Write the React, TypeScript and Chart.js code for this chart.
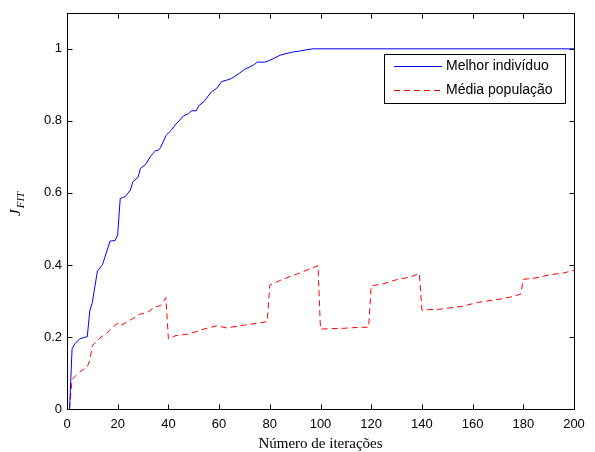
import { useEffect, useRef } from "react";
import { Chart, registerables } from "chart.js";

Chart.register(...registerables);

// Iteration numbers and values
const bestIter = [1, 2, 3, 5, 8, 9, 10, 12, 14, 17, 19, 20, 21, 22, 23, 25, 26, 28, 29, 31, 33, 35, 36, 37, 39, 41, 43, 46, 48, 49, 51, 52, 54, 57, 59, 61, 63, 65, 68, 70, 72, 74, 75, 78, 80, 82, 84, 86, 89, 92, 95, 97, 200];
const bestValues = [0, 0.167, 0.18, 0.195, 0.201, 0.273, 0.296, 0.383, 0.401, 0.466, 0.468, 0.484, 0.585, 0.587, 0.59, 0.608, 0.631, 0.643, 0.668, 0.679, 0.702, 0.718, 0.718, 0.727, 0.759, 0.773, 0.791, 0.814, 0.82, 0.828, 0.828, 0.842, 0.853, 0.881, 0.89, 0.909, 0.913, 0.918, 0.932, 0.943, 0.949, 0.957, 0.963, 0.963, 0.968, 0.975, 0.982, 0.986, 0.991, 0.994, 0.998, 1.0, 1.0];

const meanIter = [1, 2, 5, 8, 9, 10, 13, 16, 18, 20, 21, 24, 29, 31, 35, 37, 39, 40, 43, 48, 54, 59, 63, 70, 76, 79, 80, 85, 92, 99, 100, 109, 116, 119, 120, 125, 130, 135, 139, 140, 147, 156, 162, 170, 175, 179, 180, 185, 190, 196, 200];
const meanValues = [0, 0.082, 0.103, 0.117, 0.135, 0.176, 0.197, 0.213, 0.227, 0.238, 0.231, 0.243, 0.264, 0.265, 0.284, 0.287, 0.309, 0.195, 0.204, 0.208, 0.222, 0.231, 0.225, 0.233, 0.239, 0.243, 0.344, 0.36, 0.378, 0.398, 0.222, 0.224, 0.227, 0.227, 0.342, 0.348, 0.359, 0.366, 0.376, 0.275, 0.277, 0.285, 0.296, 0.304, 0.311, 0.319, 0.36, 0.364, 0.372, 0.378, 0.385];

const seriesLabels = ["Melhor indivíduo", "Média população"];
const seriesColors = ["#0000ff", "#ff0000"];
const xTicks = [0, 20, 40, 60, 80, 100, 120, 140, 160, 180, 200];
const yTicks = [0, 0.2, 0.4, 0.6, 0.8, 1];
const yTickLabels = ["0", "0.2", "0.4", "0.6", "0.8", "1"];
const xTitle = "Número de iterações";
const yTitleMain = "J";
const yTitleSub = "FIT";

const sansFont = "Arial, 'Liberation Sans', Helvetica, sans-serif";
const serifFont = "'Times New Roman', 'Liberation Serif', serif";

const matlabFrame = {
  id: "matlabFrame",
  afterDraw(chart: any) {
    const { ctx, chartArea } = chart;
    const L = Math.round(chartArea.left) + 0.5;
    const R = Math.round(chartArea.right) + 0.5;
    const T = Math.round(chartArea.top) + 0.5;
    const B = Math.round(chartArea.bottom) + 0.5;
    const xs = chart.scales.x;
    const ys = chart.scales.y;
    ctx.save();
    ctx.strokeStyle = "#000";
    ctx.lineWidth = 1;
    ctx.setLineDash([]);
    ctx.strokeRect(L, T, R - L, B - T);
    const tl = 5;
    ctx.beginPath();
    xTicks.forEach((v) => {
      const px = Math.round(xs.getPixelForValue(v)) + 0.5;
      ctx.moveTo(px, B);
      ctx.lineTo(px, B - tl);
      ctx.moveTo(px, T);
      ctx.lineTo(px, T + tl);
    });
    yTicks.forEach((v) => {
      const py = Math.round(ys.getPixelForValue(v)) + 0.5;
      ctx.moveTo(L, py);
      ctx.lineTo(L + tl, py);
      ctx.moveTo(R, py);
      ctx.lineTo(R - tl, py);
    });
    ctx.stroke();

    // x title
    ctx.fillStyle = "#000";
    ctx.font = `15px ${serifFont}`;
    ctx.textAlign = "center";
    ctx.textBaseline = "alphabetic";
    ctx.fillText(xTitle, (chartArea.left + chartArea.right) / 2, 448);

    // y title (rotated, with subscript)
    ctx.save();
    ctx.translate(20, 216);
    ctx.rotate(-Math.PI / 2);
    ctx.textAlign = "left";
    ctx.font = `italic 15px ${serifFont}`;
    ctx.fillText(yTitleMain, 0, 0);
    const jw = ctx.measureText(yTitleMain).width;
    ctx.font = `italic 11px ${serifFont}`;
    ctx.fillText(yTitleSub, jw + 1, 4);
    ctx.restore();

    // legend
    const lx = 384.5, ly = 54.5, lw = 181, lh = 49;
    ctx.fillStyle = "#fff";
    ctx.fillRect(lx, ly, lw, lh);
    ctx.strokeStyle = "#000";
    ctx.strokeRect(lx, ly, lw, lh);
    const rows = [66.5, 90.5];
    rows.forEach((ry, i) => {
      ctx.beginPath();
      ctx.strokeStyle = seriesColors[i];
      ctx.setLineDash(i === 1 ? [6, 4] : []);
      ctx.moveTo(394, ry);
      ctx.lineTo(442, ry);
      ctx.stroke();
      ctx.setLineDash([]);
      ctx.fillStyle = "#000";
      ctx.font = `14px ${sansFont}`;
      ctx.textAlign = "left";
      ctx.textBaseline = "middle";
      ctx.fillText(seriesLabels[i], 446, ry);
    });
    ctx.restore();
  },
};

export default function App() {
  const ref = useRef<HTMLCanvasElement | null>(null);
  useEffect(() => {
    document.body.style.margin = "0";
    const canvas = ref.current;
    if (!canvas) return;
    const chart = new Chart(canvas, {
      type: "line",
      data: {
        datasets: [
          {
            label: seriesLabels[0],
            data: bestIter.map((x, i) => ({ x, y: bestValues[i] })),
            borderColor: seriesColors[0],
            borderWidth: 1,
            pointRadius: 0,
            tension: 0,
            fill: false,
          },
          {
            label: seriesLabels[1],
            data: meanIter.map((x, i) => ({ x, y: meanValues[i] })),
            borderColor: seriesColors[1],
            borderWidth: 1,
            borderDash: [6, 4],
            pointRadius: 0,
            tension: 0,
            fill: false,
          },
        ],
      },
      options: {
        responsive: false,
        animation: false,
        events: [],
        layout: { padding: { left: 0, right: 21, top: 10, bottom: 0 } },
        plugins: { legend: { display: false }, tooltip: { enabled: false }, title: { display: false } },
        scales: {
          x: {
            type: "linear",
            min: 0,
            max: 200,
            afterBuildTicks: (s: any) => {
              s.ticks = xTicks.map((v) => ({ value: v }));
            },
            afterFit: (s: any) => {
              s.height = 43;
            },
            grid: { display: false, drawTicks: false },
            border: { display: false },
            ticks: {
              color: "#000",
              padding: 8,
              maxRotation: 0,
              autoSkip: false,
              font: { family: sansFont, size: 13 },
              callback: (v: any) => String(v),
            },
          },
          y: {
            type: "linear",
            min: 0,
            max: 1.1,
            afterBuildTicks: (s: any) => {
              s.ticks = yTicks.map((v) => ({ value: v }));
            },
            afterFit: (s: any) => {
              s.width = 67;
            },
            grid: { display: false, drawTicks: false },
            border: { display: false },
            ticks: {
              color: "#000",
              padding: 5,
              autoSkip: false,
              font: { family: sansFont, size: 13 },
              callback: (v: any) => yTickLabels[yTicks.indexOf(v)] ?? "",
            },
          },
        },
      },
      plugins: [matlabFrame],
    });
    return () => chart.destroy();
  }, []);
  return (
    <div style={{ position: "fixed", left: 0, top: 0, width: 595, height: 452, background: "#fff" }}>
      <canvas ref={ref} width={595} height={452} style={{ display: "block", width: 595, height: 452 }} />
    </div>
  );
}
